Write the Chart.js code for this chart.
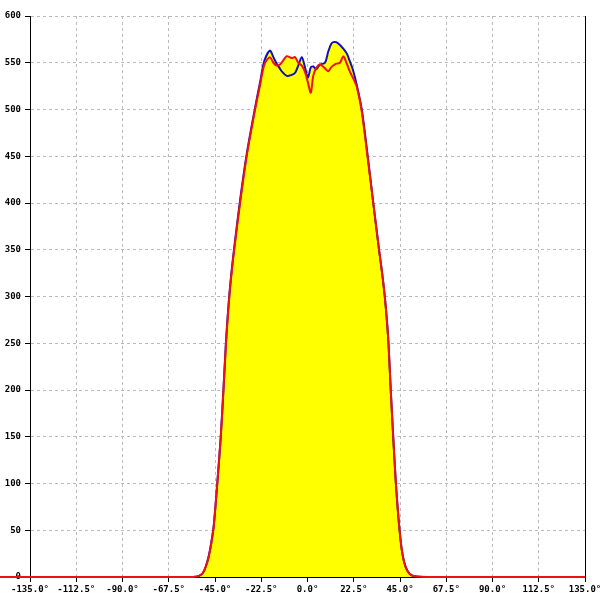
<!DOCTYPE html>
<html>
<head>
<meta charset="utf-8">
<script src="https://cdn.jsdelivr.net/npm/chart.js@4/dist/chart.umd.min.js"></script>
<style>
  body { margin: 0; background: #fff; }
  canvas { display: block; }
</style>
</head>
<body>
<canvas id="chart" width="600" height="600"></canvas>
<script>
// angle in degrees and the two measured curves
const angles = [-150, -135, -60, -55.7, -53, -51, -49.5, -48, -46.8, -45.6, -43.9, -42.2, -40.9, -39.7, -38.8, -37.9,
    -36.8, -35.5, -32.8, -29.6, -25.5, -23, -21, -18.3, -16.6, -15, -13.5, -12.6, -10.1, -7.7, -6.1, -4.5, -2.8,
    -1.2, 0.2, 1.6, 2.8, 4.2, 6, 8.5, 10.1, 11.5, 12.5, 14, 15.8, 17.4, 19.1, 20.7, 22.3, 24, 26.4, 29.3,
    32, 34.8, 36.3, 37.6, 38.6, 39.4, 40.5, 41.7, 43, 44, 44.8, 45.8, 47, 48.5, 50.5, 53, 58, 135, 150];
const blueValues = [null, null, null, 0, 1, 4, 11, 23, 37, 55, 100, 150, 200, 250, 280, 305,
    330, 355, 403, 452, 502, 530, 552, 563, 556, 549, 544, 541, 536, 537, 539, 547, 556,
    545, 534, 545, 546, 543, 548, 550, 562, 570, 572, 572, 569, 565, 560, 551, 541, 526, 500, 450,
    400, 350, 325, 300, 275, 250, 200, 150, 100, 70, 50, 30, 16, 7, 2, 0.5, 0, null, null];
const redValues = [0, 0, 0, 0, 1, 4, 11, 22, 36, 55, 100, 150, 200, 248, 278, 303,
    328, 353, 400, 450, 500, 527, 548, 556, 550, 547, 548, 550, 557, 555, 556, 550, 547,
    540, 529, 518, 536, 544, 548, 544, 541, 545, 547, 549, 550, 557, 549, 540, 533, 524, 498, 448,
    400, 350, 325, 300, 275, 250, 200, 150, 100, 70, 50, 30, 16, 7, 2, 0.5, 0, 0, 0];
const xTicks = [-135, -112.5, -90, -67.5, -45, -22.5, 0, 22.5, 45, 67.5, 90, 112.5, 135];

function toPoints(values) {
    return angles.map((a, i) => ({ x: a, y: values[i] }));
}

Chart.defaults.font.family = "'DejaVu Sans Mono', monospace";
Chart.defaults.font.size = 9;
Chart.defaults.font.weight = 'bold';
Chart.defaults.color = '#000';

const gridStyle = {
    color: '#bbbbbb',
    tickColor: '#000',
    tickLength: 5,
    tickBorderDash: []
};

new Chart(document.getElementById('chart'), {
    type: 'line',
    data: {
        datasets: [
            {
                data: toPoints(redValues),
                borderColor: '#ee1111',
                backgroundColor: '#ffff00',
                borderWidth: 2,
                fill: 'origin',
                clip: false
            },
            {
                data: toPoints(blueValues),
                borderColor: '#1111bb',
                backgroundColor: '#ffff00',
                borderWidth: 2,
                fill: 'origin'
            }
        ]
    },
    options: {
        responsive: false,
        animation: false,
        layout: { padding: { top: 16, left: 0, right: 0, bottom: 0 } },
        elements: {
            point: { radius: 0 },
            line: { tension: 0.3 }
        },
        plugins: {
            legend: { display: false },
            tooltip: { enabled: false },
            filler: { drawTime: 'beforeDatasetsDraw' }
        },
        scales: {
            x: {
                type: 'linear',
                min: -135,
                max: 135,
                afterBuildTicks: scale => { scale.ticks = xTicks.map(v => ({ value: v })); },
                ticks: {
                    padding: 2,
                    maxRotation: 0,
                    autoSkip: false,
                    callback: v => v.toFixed(1) + '°'
                },
                grid: gridStyle,
                border: { color: '#000', width: 1, dash: [3, 3] },
                afterFit: scale => {
                    scale.height = 23;
                    scale.paddingLeft = 0;
                    scale.paddingRight = 0;
                }
            },
            y: {
                min: 0,
                max: 600,
                ticks: { stepSize: 50, padding: 4 },
                grid: gridStyle,
                border: { color: '#000', width: 1, dash: [3, 3] },
                afterFit: scale => {
                    scale.width = 30;
                    scale.paddingTop = 0;
                    scale.paddingBottom = 0;
                }
            },
            y2: {
                position: 'right',
                min: 0,
                max: 600,
                ticks: { display: false },
                grid: { display: false },
                border: { color: '#000', width: 1 },
                afterFit: scale => {
                    scale.width = 15;
                    scale.paddingTop = 0;
                    scale.paddingBottom = 0;
                }
            }
        }
    }
});
</script>
</body>
</html>
